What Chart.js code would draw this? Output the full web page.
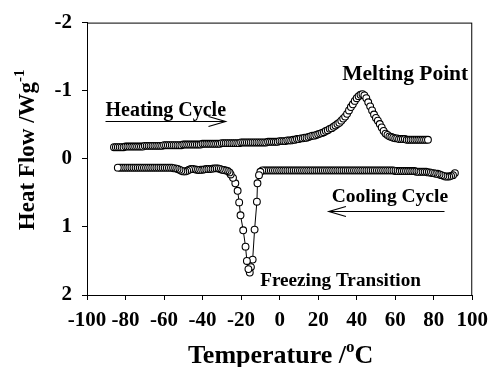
<!DOCTYPE html>
<html>
<head>
<meta charset="utf-8">
<script src="https://cdn.jsdelivr.net/npm/chart.js@4/dist/chart.umd.min.js"></script>
<style>
  html, body { margin: 0; padding: 0; background: #fff; }
  #wrap { width: 496px; height: 367px; }
</style>
</head>
<body>
<div id="wrap"><canvas id="dsc" width="496" height="367"></canvas></div>
<script>
// heating run (temperature in C, heat flow in W/g)
const heatT = [
  -86,-85,-84,-83,-82,-81,-80,-79,-78,-77,
  -76,-75,-74,-73,-72,-71,-70,-69,-68,-67,
  -66,-65,-64,-63,-62,-61,-60,-59,-58,-57,
  -56,-55,-54,-53,-52,-51,-50,-49,-48,-47,
  -46,-45,-44,-43,-42,-41,-40,-39,-38,-37,
  -36,-35,-34,-33,-32,-31,-30,-29,-28,-27,
  -26,-25,-24,-23,-22,-21,-20,-19,-18,-17,
  -16,-15,-14,-13,-12,-11,-10,-9,-8,-7,
  -6,-5,-4,-3,-2,-1,0,1,2,3,
  4,5,6,7,8,9,10,11,12,13,
  14,15,16,17,18,19,20,21,22,23,
  24,25,26,27,28,29,30,31,32,33,
  34,35,36,37,38,39,40,41,42,43,
  44,45,46,47,48,49,50,51,52,53,
  54,55,56,57,58,59,60,61,62,63,
  64,65,66,67,68,69,70,71,72,73,
  74,75,76,77
];
const heatQ = [
  -0.17,-0.17,-0.17,-0.17,-0.17,-0.17,-0.18,-0.18,-0.18,-0.18,
  -0.18,-0.18,-0.18,-0.18,-0.18,-0.18,-0.19,-0.19,-0.19,-0.19,
  -0.19,-0.19,-0.19,-0.19,-0.19,-0.19,-0.2,-0.2,-0.2,-0.2,
  -0.2,-0.2,-0.2,-0.2,-0.2,-0.2,-0.21,-0.21,-0.21,-0.21,
  -0.21,-0.21,-0.21,-0.21,-0.21,-0.21,-0.22,-0.22,-0.22,-0.22,
  -0.22,-0.22,-0.22,-0.22,-0.22,-0.22,-0.23,-0.23,-0.23,-0.23,
  -0.23,-0.23,-0.23,-0.23,-0.23,-0.23,-0.24,-0.24,-0.24,-0.24,
  -0.24,-0.24,-0.24,-0.24,-0.24,-0.24,-0.24,-0.24,-0.24,-0.24,
  -0.25,-0.25,-0.25,-0.25,-0.25,-0.25,-0.26,-0.26,-0.26,-0.26,
  -0.27,-0.27,-0.27,-0.28,-0.28,-0.29,-0.29,-0.3,-0.3,-0.31,
  -0.31,-0.32,-0.33,-0.34,-0.34,-0.35,-0.36,-0.37,-0.38,-0.39,
  -0.41,-0.42,-0.44,-0.45,-0.47,-0.49,-0.51,-0.53,-0.56,-0.59,
  -0.62,-0.66,-0.71,-0.76,-0.8,-0.85,-0.89,-0.92,-0.94,-0.95,
  -0.93,-0.89,-0.83,-0.77,-0.71,-0.65,-0.6,-0.56,-0.51,-0.46,
  -0.41,-0.37,-0.35,-0.33,-0.32,-0.31,-0.3,-0.3,-0.29,-0.29,
  -0.29,-0.29,-0.28,-0.28,-0.28,-0.28,-0.28,-0.28,-0.28,-0.28,
  -0.28,-0.28,-0.28,-0.28
];

// cooling run, recorded from hot to cold
const coolT = [
  91,90,89,88,87,86,85,84,83,82,
  81,80,79,78,77,76,75,74,73,72,
  71,70,69,68,67,66,65,64,63,62,
  61,60,59,58,57,56,55,54,53,52,
  51,50,49,48,47,46,45,44,43,42,
  41,40,39,38,37,36,35,34,33,32,
  31,30,29,28,27,26,25,24,23,22,
  21,20,19,18,17,16,15,14,13,12,
  11,10,9,8,7,6,5,4,3,2,
  1,0,-1,-2,-3,-4,-5,-6,-7,-8,
  -9,-10,
  -10.7,-11.5,-11.8,-13.0,-14.0,-14.9,-15.5,-16.2,-17.0,-17.7,
  -18.9,-20.3,-21.0,-21.8,-23.0,-24.2,-25.4,
  -26,-27,-28,-29,-30,-31,-32,-33,-34,-35,
  -36,-37,-38,-39,-40,-41,-42,-43,-44,-45,
  -46,-47,-48,-49,-50,-51,-52,-53,-54,-55,
  -56,-57,-58,-59,-60,-61,-62,-63,-64,-65,
  -66,-67,-68,-69,-70,-71,-72,-73,-74,-75,
  -76,-77,-78,-79,-80,-81,-82,-83,-84
];
const coolQ = [
  0.21,0.24,0.25,0.26,0.26,0.26,0.25,0.24,0.23,0.22,
  0.22,0.21,0.21,0.2,0.2,0.19,0.19,0.19,0.19,0.19,
  0.19,0.18,0.18,0.18,0.18,0.18,0.18,0.18,0.18,0.18,
  0.18,0.18,0.17,0.17,0.17,0.17,0.17,0.17,0.17,0.17,
  0.17,0.17,0.17,0.17,0.17,0.17,0.17,0.17,0.17,0.17,
  0.17,0.17,0.17,0.17,0.17,0.17,0.17,0.17,0.17,0.17,
  0.17,0.17,0.17,0.17,0.17,0.17,0.17,0.17,0.17,0.17,
  0.17,0.17,0.17,0.17,0.17,0.17,0.17,0.17,0.17,0.17,
  0.17,0.17,0.17,0.17,0.17,0.17,0.17,0.17,0.17,0.17,
  0.17,0.17,0.17,0.17,0.17,0.17,0.17,0.17,0.17,0.17,
  0.17,0.19,
  0.24,0.36,0.63,1.04,1.48,1.59,1.67,1.62,1.5,1.29,
  1.05,0.83,0.64,0.47,0.36,0.28,0.23,
  0.2,0.18,0.17,0.165,0.16,0.15,0.14,0.14,0.14,0.145,
  0.15,0.15,0.15,0.155,0.16,0.16,0.165,0.16,0.155,0.15,
  0.15,0.16,0.175,0.185,0.185,0.175,0.16,0.15,0.14,0.14,
  0.13,0.13,0.13,0.13,0.13,0.13,0.13,0.13,0.13,0.13,
  0.13,0.13,0.13,0.13,0.13,0.13,0.13,0.13,0.13,0.13,
  0.13,0.13,0.13,0.13,0.13,0.13,0.13,0.13,0.13
];

const xTicks = [-100, -80, -60, -40, -20, 0, 20, 40, 60, 80, 100];
const yTicks = [-2, -1, 0, 1, 2];

const SERIF = "'Liberation Serif', 'Times New Roman', serif";

// text labels inside the plot, placed in data units
const notes = [
  { text: 'Melting Point', x: 32.5, y: -1.15, size: 21.5 },
  { text: 'Heating Cycle', x: -90.4, y: -0.63, size: 20 },
  { text: 'Cooling Cycle', x: 27.0, y: 0.63, size: 19.5 },
  { text: 'Freezing Transition', x: -10.1, y: 1.87, size: 19.2 }
];
const arrows = [
  { from: -90.4, to: -28.1, y: -0.55 },
  { from: 85.6, to: 25.6, y: 0.76 }
];

function toPoints(xs, ys) {
  return xs.map((x, i) => ({ x: x, y: ys[i] }));
}

// draws text where some parts are superscripts
function drawRich(ctx, parts, size, cx, baseY) {
  const supSize = Math.round(size * 0.64);
  let total = 0;
  parts.forEach(p => {
    ctx.font = 'bold ' + (p.sup ? supSize : size) + 'px ' + SERIF;
    p.w = ctx.measureText(p.t).width;
    total += p.w;
  });
  let x = cx - total / 2;
  ctx.textAlign = 'left';
  ctx.textBaseline = 'alphabetic';
  parts.forEach(p => {
    ctx.font = 'bold ' + (p.sup ? supSize : size) + 'px ' + SERIF;
    ctx.fillText(p.t, x, p.sup ? baseY - size * 0.42 : baseY);
    x += p.w;
  });
}

const decorations = {
  id: 'decorations',
  afterDraw(chart) {
    const ctx = chart.ctx;
    const area = chart.chartArea;
    const xs = chart.scales.x, ys = chart.scales.y;
    ctx.save();
    // frame around plot
    ctx.strokeStyle = '#000';
    ctx.lineWidth = 1;
    ctx.strokeRect(area.left + 0.5, area.top + 0.5, area.right - area.left - 1, area.bottom - area.top);

    ctx.fillStyle = '#000';
    // axis titles
    drawRich(ctx, [{ t: 'Temperature /' }, { t: 'o', sup: true }, { t: 'C' }], 26, (area.left + area.right) / 2 + 1, 363);
    ctx.save();
    ctx.translate(34, (area.top + area.bottom) / 2 - 9);
    ctx.rotate(-Math.PI / 2);
    drawRich(ctx, [{ t: 'Heat Flow /Wg' }, { t: '-1', sup: true }], 23, 0, 0);
    ctx.restore();

    // annotations
    ctx.textAlign = 'left';
    ctx.textBaseline = 'alphabetic';
    notes.forEach(n => {
      ctx.font = 'bold ' + n.size + 'px ' + SERIF;
      ctx.fillText(n.text, xs.getPixelForValue(n.x), ys.getPixelForValue(n.y));
    });

    // arrows
    ctx.lineWidth = 1.2;
    arrows.forEach(a => {
      const x0 = xs.getPixelForValue(a.from);
      const x1 = xs.getPixelForValue(a.to);
      const y = Math.round(ys.getPixelForValue(a.y)) + 0.5;
      const dir = x1 > x0 ? 1 : -1;
      ctx.beginPath();
      ctx.moveTo(x0, y);
      ctx.lineTo(x1, y);
      ctx.moveTo(x1 - dir * 17, y - 5);
      ctx.lineTo(x1, y);
      ctx.lineTo(x1 - dir * 17, y + 5);
      ctx.stroke();
    });
    ctx.restore();
  }
};

const seriesStyle = {
  showLine: true,
  borderColor: '#000',
  borderWidth: 1,
  pointRadius: 3.4,
  pointBorderWidth: 1.1,
  pointBorderColor: '#000',
  pointBackgroundColor: '#fff',
  tension: 0
};

const ctx = document.getElementById('dsc').getContext('2d');
new Chart(ctx, {
  type: 'scatter',
  data: {
    datasets: [
      Object.assign({ label: 'Heating Cycle', data: toPoints(heatT, heatQ) }, seriesStyle),
      Object.assign({ label: 'Cooling Cycle', data: toPoints(coolT, coolQ) }, seriesStyle)
    ]
  },
  options: {
    responsive: false,
    animation: false,
    devicePixelRatio: 1,
    layout: { padding: { top: 22, right: 17, left: 0, bottom: 0 } },
    plugins: { legend: { display: false }, tooltip: { enabled: false } },
    scales: {
      x: {
        type: 'linear',
        min: -100,
        max: 100,
        afterBuildTicks: s => { s.ticks = xTicks.map(v => ({ value: v })); },
        afterFit: s => { s.height = 72; },
        ticks: {
          color: '#000',
          padding: 8,
          maxRotation: 0,
          autoSkip: false,
          font: { family: SERIF, size: 21, weight: 'bold' }
        },
        grid: { drawOnChartArea: false, drawTicks: true, tickLength: 5, color: '#000' },
        border: { color: '#000', width: 1 }
      },
      y: {
        type: 'linear',
        min: -2,
        max: 2,
        reverse: true,
        afterBuildTicks: s => { s.ticks = yTicks.map(v => ({ value: v })); },
        afterFit: s => { s.width = 87; },
        ticks: {
          color: '#000',
          padding: 10,
          font: { family: SERIF, size: 21, weight: 'bold' }
        },
        grid: { drawOnChartArea: false, drawTicks: true, tickLength: 5, color: '#000' },
        border: { color: '#000', width: 1 }
      }
    }
  },
  plugins: [decorations]
});
</script>
</body>
</html>
